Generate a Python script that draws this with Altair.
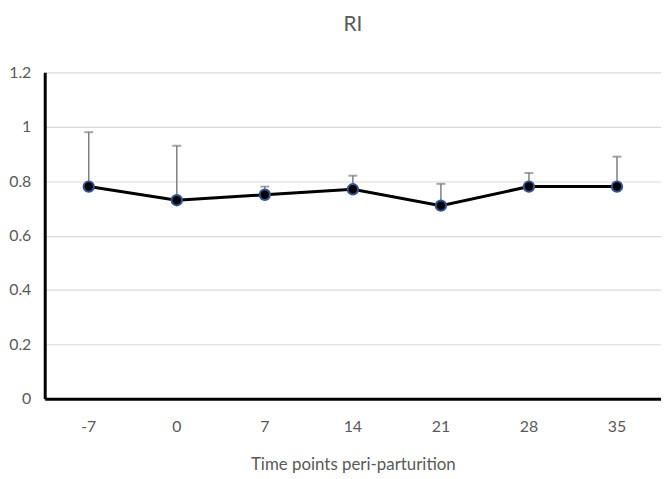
import altair as alt
import pandas as pd

days = ["-7", "0", "7", "14", "21", "28", "35"]
ri_mean = [0.78, 0.73, 0.75, 0.77, 0.71, 0.78, 0.78]
ri_upper = [0.98, 0.93, 0.78, 0.82, 0.79, 0.83, 0.89]

df = pd.DataFrame({"day": days, "mean": ri_mean, "upper": ri_upper})

FONT = "Lato"
GRAY = "#595959"

x = alt.X("day:N", sort=days, title="Time points peri-parturition",
          scale=alt.Scale(paddingInner=0, paddingOuter=0),
          axis=alt.Axis(labelAngle=0, ticks=False, domainColor="black", domainWidth=3,
                        labelColor=GRAY, labelFontSize=16, labelPadding=20,
                        titleColor=GRAY, titleFontSize=17, titleFontWeight="normal",
                        titlePadding=22, labelFont=FONT, titleFont=FONT, grid=False))
y = alt.Y("mean:Q", title=None,
          scale=alt.Scale(domain=[0, 1.2], nice=False),
          axis=alt.Axis(values=[0, 0.2, 0.4, 0.6, 0.8, 1.0, 1.2], format="~g",
                        ticks=False, domainColor="black", domainWidth=3,
                        labelColor=GRAY, labelFontSize=16, labelPadding=14, labelFont=FONT,
                        gridColor="#d9d9d9", gridWidth=1.2))

base = alt.Chart(df)

err = base.mark_rule(color="#7f7f7f", strokeWidth=1.5).encode(x=x, y=y, y2="upper:Q")
cap = base.mark_tick(color="#7f7f7f", thickness=2, size=9, orient="horizontal").encode(
    x=x, y=alt.Y("upper:Q"))
line = base.mark_line(color="black", strokeWidth=3).encode(x=x, y=y)
pts = base.mark_point(filled=True, fill="black", stroke="#2f5597", strokeWidth=2,
                      size=110, opacity=1, shape="circle").encode(x=x, y=y)

chart = alt.layer(err, cap, line, pts).properties(
    width=621, height=329,
    autosize=alt.AutoSizeParams(type="none"),
    padding={"left": 37, "top": 63, "right": 0, "bottom": 79},
    title=alt.TitleParams("RI", fontSize=21, color=GRAY, font=FONT, fontWeight="normal",
                          offset=30, anchor="middle"),
).configure_view(stroke=None)

chart.save("out.html", embed_options={"renderer": "svg", "actions": False})
